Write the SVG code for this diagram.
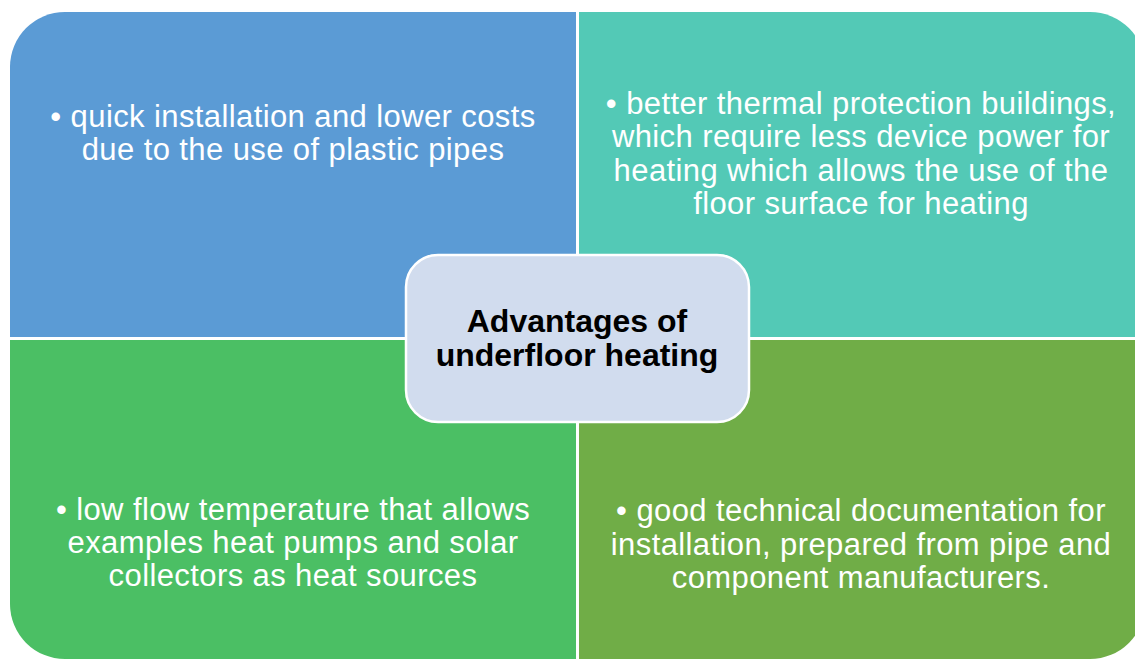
<svg xmlns="http://www.w3.org/2000/svg" width="1135" height="659" viewBox="0 0 1135 659">
<style>
.q{stroke:none}
.t{font-family:"Liberation Sans",Arial,sans-serif;font-size:31px;letter-spacing:0.4px;fill:#ffffff;text-anchor:middle}
.c{font-family:"Liberation Sans",Arial,sans-serif;font-size:32px;font-weight:bold;fill:#000000;text-anchor:middle}
</style>
<rect width="1135" height="659" fill="#ffffff"/>
<g id="node-tl">
<path class="q" fill="#5B9BD5" d="M10,67 A55,55 0 0 1 65,12 L576,12 L576,337 L10,337 Z"/>
<text class="t" x="293" y="127">• quick installation and lower costs</text>
<text class="t" x="293" y="160">due to the use of plastic pipes</text>
</g>
<g id="node-tr">
<path class="q" fill="#53C9B6" d="M579,12 L1090,12 A55,55 0 0 1 1145,67 L1145,337 L579,337 Z"/>
<text class="t" x="861" y="114">• better thermal protection buildings,</text>
<text class="t" x="861" y="147">which require less device power for</text>
<text class="t" x="861" y="181">heating which allows the use of the</text>
<text class="t" x="861" y="214">floor surface for heating</text>
</g>
<g id="node-bl">
<path class="q" fill="#4BBF64" d="M10,340 L576,340 L576,659 L65,659 A55,55 0 0 1 10,604 Z"/>
<text class="t" x="293" y="520">• low flow temperature that allows</text>
<text class="t" x="293" y="553">examples heat pumps and solar</text>
<text class="t" x="293" y="586">collectors as heat sources</text>
</g>
<g id="node-br">
<path class="q" fill="#70AD47" d="M579,340 L1145,340 L1145,604 A55,55 0 0 1 1090,659 L579,659 Z"/>
<text class="t" x="861" y="521">• good technical documentation for</text>
<text class="t" x="861" y="555">installation, prepared from pipe and</text>
<text class="t" x="861" y="588">component manufacturers.</text>
</g>
<g id="node-center">
<rect x="406" y="255" width="343" height="167" rx="32" ry="32" fill="#D1DCEE" stroke="#ffffff" stroke-width="2.5"/>
<text class="c" x="577" y="332">Advantages of</text>
<text class="c" x="577" y="366">underfloor heating</text>
</g>
<g id="connectors"></g>
</svg>
